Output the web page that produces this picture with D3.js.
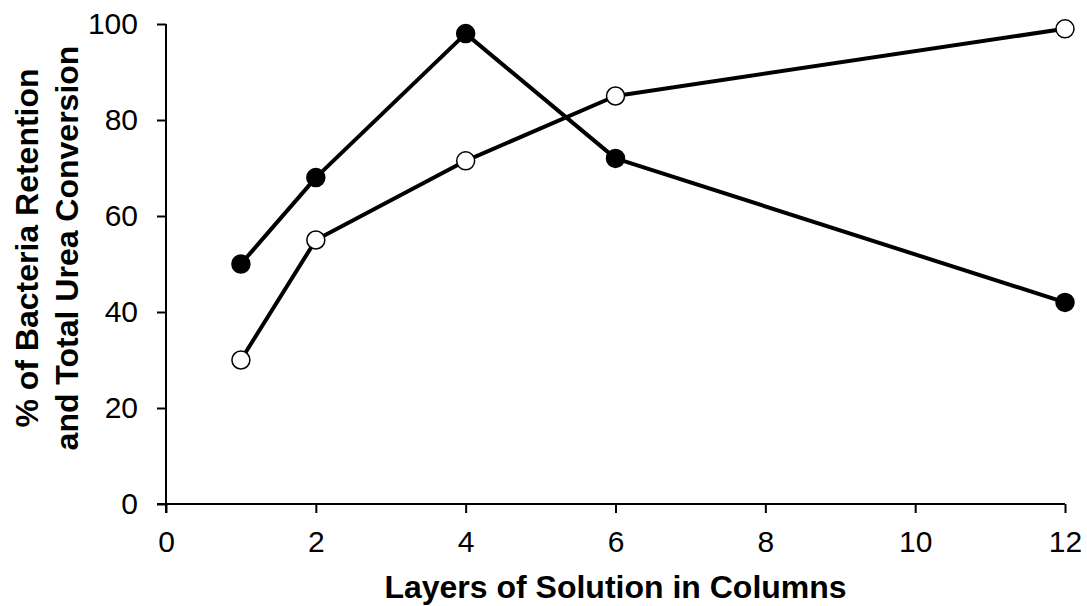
<!DOCTYPE html>
<html><head><meta charset="utf-8">
<script src="https://cdn.jsdelivr.net/npm/d3@7"></script>
<style>body{margin:0;background:#fff}svg{display:block}text{font-family:"Liberation Sans",Arial,sans-serif}</style>
</head><body><svg id="c" width="1087" height="606"></svg>
<script>
const layers = [1, 2, 4, 6, 12];
const bacteriaRetention = [50, 68, 98, 72, 42];
const ureaConversion = [30, 55, 71.5, 85, 99];
const xTicks = [0, 2, 4, 6, 8, 10, 12];
const yTicks = [0, 20, 40, 60, 80, 100];

const svg = d3.select("#c");
const x = d3.scaleLinear().domain([0, 12]).range([166, 1065]);
const y = d3.scaleLinear().domain([0, 100]).range([504, 24]);

const gx = svg.append("g").attr("transform", "translate(0,504)")
  .call(d3.axisBottom(x).tickValues(xTicks).tickSize(9).tickPadding(18).tickSizeOuter(0));
const gy = svg.append("g").attr("transform", "translate(166,0)")
  .call(d3.axisLeft(y).tickValues(yTicks).tickSize(9).tickPadding(19).tickSizeOuter(0));
[gx, gy].forEach(g => {
  g.attr("font-size", null).attr("font-family", null);
  g.select(".domain").attr("stroke", "#000").attr("stroke-width", 2);
  g.selectAll(".tick line").attr("stroke", "#000").attr("stroke-width", 2);
  g.selectAll(".tick text").attr("fill", "#000").style("font-size", "30px");
});
gx.select(".domain").attr("d", `M${x(0)-9},0H${x(12)}`);
gy.select(".domain").attr("d", `M0,${y(0)+9}V${y(100)}`);

const line = d3.line().x(d => x(d[0])).y(d => y(d[1]));
const s1 = layers.map((l, i) => [l, bacteriaRetention[i]]);
const s2 = layers.map((l, i) => [l, ureaConversion[i]]);
[s1, s2].forEach(s => svg.append("path").datum(s).attr("d", line)
  .attr("fill", "none").attr("stroke", "#000").attr("stroke-width", 4).attr("stroke-linejoin", "round"));

svg.selectAll(".m1").data(s1).enter().append("circle")
  .attr("cx", d => x(d[0])).attr("cy", d => y(d[1])).attr("r", 9)
  .attr("fill", "#000").attr("stroke", "#000").attr("stroke-width", 1.5);
svg.selectAll(".m2").data(s2).enter().append("circle")
  .attr("cx", d => x(d[0])).attr("cy", d => y(d[1])).attr("r", 9)
  .attr("fill", "#fff").attr("stroke", "#000").attr("stroke-width", 1.5);

svg.append("text").attr("x", x(6)).attr("y", 598).attr("text-anchor", "middle")
  .style("font-size", "32px").style("font-weight", "bold").text("Layers of Solution in Columns");
const yt = svg.append("text").attr("transform", "rotate(-90)")
  .attr("text-anchor", "middle").style("font-size", "32px").style("font-weight", "bold");
yt.append("tspan").attr("x", -248).attr("y", 38).text("% of Bacteria Retention");
yt.append("tspan").attr("x", -248).attr("y", 78).text("and Total Urea Conversion");
</script></body></html>
